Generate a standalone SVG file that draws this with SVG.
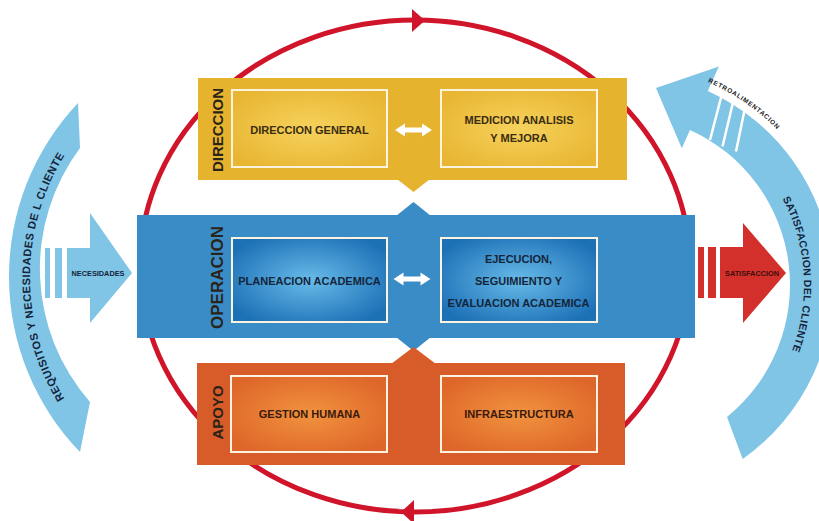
<svg xmlns="http://www.w3.org/2000/svg" width="819" height="521" viewBox="0 0 819 521">
<style>
text{font-family:"Liberation Sans",Arial,sans-serif;font-weight:bold}
.lbl{font-size:11px;text-anchor:middle}
.ylw{fill:#3a2c10}
.blu{fill:#14253a}
.org{fill:#3a1a0e}
.side{font-size:15px;fill:#2a2418;text-anchor:middle}
.box{stroke:#fbf3df;stroke-width:2}
.arc{fill:#80c4e6}
.ring{fill:none;stroke:#d0152b;stroke-width:5}
.dbl{fill:#ffffff}
.small{font-size:7px;text-anchor:middle}
</style>
<defs>
<radialGradient id="gY" cx="50%" cy="50%" r="60%">
<stop offset="0" stop-color="#f6d25c"/><stop offset="1" stop-color="#e8b633"/>
</radialGradient>
<radialGradient id="gB" cx="50%" cy="50%" r="60%">
<stop offset="0" stop-color="#68bbe8"/><stop offset="1" stop-color="#1c70b6"/>
</radialGradient>
<radialGradient id="gO" cx="50%" cy="50%" r="60%">
<stop offset="0" stop-color="#f1933e"/><stop offset="1" stop-color="#de662a"/>
</radialGradient>
<path id="pLeft" d="M84.3,426.1 A232,232 0 0 1 84.3,127.9"/>
<path id="pRight" d="M750.1,154.9 A184,184 0 0 1 761,403.3"/>
<path id="pRetro" d="M658.4,67.4 A220,220 0 0 1 811.4,174.5"/>
</defs>

<g id="ciclo">
<ellipse class="ring" cx="415" cy="266" rx="275" ry="246"/>
<polygon points="412,9 425,20.5 412,32" fill="#d0152b"/>
<polygon points="414,500 401,512 414,524" fill="#d0152b"/>
</g>

<g id="requisitos">
<path class="arc" d="M78,103 A252.5,252.5 0 0 0 80,452 L90,402 A202,202 0 0 1 80,148 Z"/>
<text font-size="11" fill="#14253a" text-anchor="middle" textLength="256" lengthAdjust="spacing"><textPath href="#pLeft" startOffset="50%">REQUISITOS Y NECESIDADES DE L CLIENTE</textPath></text>
</g>

<g id="necesidades">
<rect class="arc" x="45" y="248" width="5" height="50"/>
<rect class="arc" x="55" y="248" width="7" height="50"/>
<polygon class="arc" points="67,248 90,248 90,213 132,273 90,323 90,298 67,298"/>
<text class="small" x="98" y="275.5" fill="#14253a" textLength="53" lengthAdjust="spacingAndGlyphs">NECESIDADES</text>
</g>

<g id="satisfaccion">
<rect x="698" y="247" width="6" height="51" fill="#d3302b"/>
<rect x="708" y="247" width="8" height="51" fill="#d3302b"/>
<polygon points="720,247 743,247 743,223 786,273 743,323 743,298 720,298" fill="#d3302b"/>
<text class="small" x="752" y="275.5" fill="#3a0f0c" textLength="54" lengthAdjust="spacingAndGlyphs">SATISFACCION</text>
</g>

<g id="satisfaccion-cliente">
<path class="arc" d="M690,130 L681.8,148.3 L656,88 L718.9,66.4 L707.8,91 A213,213 0 0 1 742.7,459 L727,417 A170,170 0 0 0 690,130 Z"/>
<g stroke="#ffffff" stroke-width="2.5">
<line x1="723.5" y1="88" x2="710" y2="140"/>
<line x1="735" y1="94" x2="722.5" y2="146.5"/>
<line x1="746.5" y1="100.5" x2="736" y2="151.5"/>
</g>
<text font-size="6.5" fill="#1b1b1b" text-anchor="middle" textLength="84" lengthAdjust="spacing"><textPath href="#pRetro" startOffset="48.6%">RETROALIMENTACION</textPath></text>
<text font-size="10.5" fill="#14253a" text-anchor="middle" textLength="157" lengthAdjust="spacing"><textPath href="#pRight" startOffset="48.7%">SATISFACCION DEL CLIENTE</textPath></text>
</g>

<g id="direccion">
<rect x="198" y="78" width="429" height="102" fill="#e6b32f"/>
<polygon points="397,179 430,179 413.5,192" fill="#e6b32f"/>
<text class="side" transform="translate(223,130) rotate(-90)">DIRECCION</text>
<g id="direccion-general">
<rect class="box" x="232" y="90" width="155" height="77" fill="url(#gY)"/>
<text class="lbl ylw" x="309.5" y="134">DIRECCION GENERAL</text>
</g>
<g id="medicion">
<rect class="box" x="441" y="90" width="156" height="77" fill="url(#gY)"/>
<text class="lbl ylw" x="519" y="124">MEDICION ANALISIS</text>
<text class="lbl ylw" x="519" y="142">Y MEJORA</text>
</g>
</g>

<g id="operacion">
<rect x="137" y="215" width="558" height="123" fill="#3a8cc7"/>
<polygon points="396,216 431,216 413.5,202" fill="#3a8cc7"/>
<polygon points="396,337 431,337 413.5,351" fill="#3a8cc7"/>
<text class="side" style="font-size:17px" fill="#14253a" transform="translate(223,277.5) rotate(-90)">OPERACION</text>
<g id="planeacion">
<rect class="box" x="232" y="238" width="155" height="84" fill="url(#gB)"/>
<text class="lbl blu" x="309.5" y="284.5">PLANEACION ACADEMICA</text>
</g>
<g id="ejecucion">
<rect class="box" x="441" y="238" width="156" height="84" fill="url(#gB)"/>
<text class="lbl blu" x="518.5" y="262.5">EJECUCION,</text>
<text class="lbl blu" x="518.5" y="284.5">SEGUIMIENTO Y</text>
<text class="lbl blu" x="518.5" y="306.5">EVALUACION ACADEMICA</text>
</g>
</g>

<g id="apoyo">
<rect x="197" y="363" width="428" height="102" fill="#d85b2a"/>
<polygon points="391,364 436,364 413.5,347" fill="#d85b2a"/>
<text class="side" fill="#2a140c" transform="translate(223,412.5) rotate(-90)">APOYO</text>
<g id="gestion">
<rect class="box" x="231" y="376" width="156" height="76" fill="url(#gO)"/>
<text class="lbl org" x="309.5" y="418">GESTION HUMANA</text>
</g>
<g id="infraestructura">
<rect class="box" x="441" y="376" width="156" height="76" fill="url(#gO)"/>
<text class="lbl org" x="519" y="418">INFRAESTRUCTURA</text>
</g>
</g>

<g id="connectors">
<path class="dbl" d="M395,130 L405,123.5 L405,127.5 L422,127.5 L422,123.5 L432,130 L422,136.5 L422,132.5 L405,132.5 L405,136.5 Z"/>
<path class="dbl" d="M393.5,279 L403.5,272.5 L403.5,276.5 L420.5,276.5 L420.5,272.5 L430.5,279 L420.5,285.5 L420.5,281.5 L403.5,281.5 L403.5,285.5 Z"/>
</g>
</svg>
